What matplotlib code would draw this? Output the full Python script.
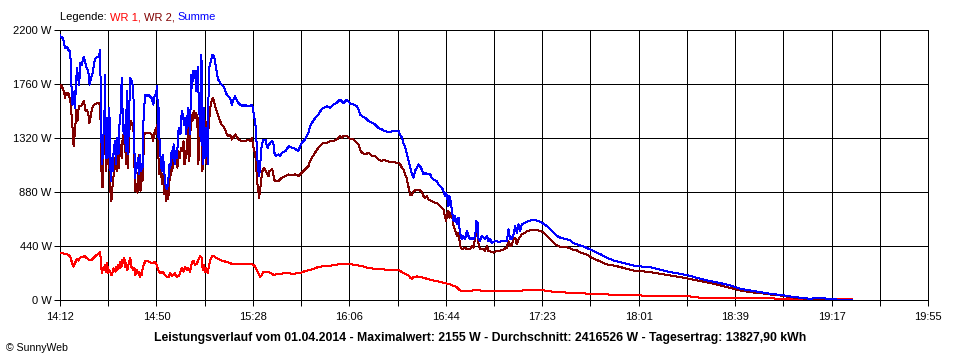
import numpy as np
import matplotlib
matplotlib.use("Agg")
import matplotlib.pyplot as plt

plt.rcParams['font.family'] = ['Liberation Sans', 'DejaVu Sans']

# minutes after 14:12, watts
span_min = 343  # 14:12 .. 19:55
tick_labels = ["14:12", "14:50", "15:28", "16:06", "16:44", "17:23", "18:01", "18:39", "19:17", "19:55"]
y_ticks = [0, 440, 880, 1320, 1760, 2200]

wr1 = [(0,379),(2.0,374),(3.3,365),(4.0,351),(4.6,310),(5.3,268),(5.9,296),(6.6,329),(7.2,318),(7.9,338),(8.6,351),(9.2,346),(9.9,357),(10.5,338),(11.9,318),(12.5,324),(13.2,338),(13.8,351),(14.5,365),(15.2,374),(15.8,385),(16.1,338),(16.5,213),(16.9,255),(17.3,241),(17.7,282),(18.1,227),(18.5,296),(18.8,268),(19.1,213),(19.5,241),(19.9,227),(20.3,199),(20.7,213),(21.1,255),(21.5,241),(21.9,227),(22.3,268),(22.7,241),(23.1,282),(23.5,255),(23.9,310),(24.3,268),(24.6,324),(25.0,296),(25.4,338),(25.8,268),(26.2,296),(26.6,241),(27.0,282),(27.4,310),(27.8,338),(28.2,268),(28.6,255),(29.0,241),(29.4,255),(29.8,199),(30.3,241),(30.7,213),(31.1,227),(31.5,185),(31.9,213),(32.3,199),(32.7,255),(33.1,282),(33.6,310),(34.3,318),(35.6,302),(36.9,296),(37.6,310),(38.0,291),(38.4,268),(38.8,241),(39.1,227),(39.5,213),(39.9,227),(40.3,213),(40.8,227),(41.5,199),(42.2,185),(42.8,180),(43.5,213),(44.2,191),(44.8,199),(45.5,213),(46.1,185),(46.8,191),(47.4,213),(48.1,255),(48.8,227),(49.4,268),(50.1,241),(50.7,255),(51.4,227),(52.1,296),(52.7,318),(53.4,282),(54.0,291),(54.7,324),(55.4,357),(56.0,338),(56.4,241),(56.8,282),(57.2,227),(57.6,255),(58.0,241),(58.4,213),(58.9,282),(59.4,324),(60.0,351),(60.6,357),(61.3,346),(62.6,329),(63.9,318),(65.2,310),(66.6,302),(67.9,291),(70.5,288),(75.8,288),(76.6,282),(77.1,268),(77.8,241),(78.4,213),(79.1,185),(79.7,199),(80.4,227),(82.4,227),(83.0,218),(84.3,202),(87.0,210),(89.6,216),(92.2,210),(94.9,216),(96.8,232),(99.5,246),(102.1,265),(104.7,273),(107.4,278),(110.0,287),(112.7,287),(114.0,289),(116.6,284),(119.2,273),(121.9,257),(124.5,251),(127.2,246),(129.8,243),(133.7,243),(135.1,224),(136.4,210),(137.7,197),(138.4,178),(139.0,169),(139.7,183),(141.0,188),(143.6,178),(146.3,161),(148.9,150),(151.5,137),(154.2,123),(156.8,101),(158.1,74),(160.8,68),(163.4,74),(164.7,79),(167.4,68),(172.6,68),(177.9,66),(183.2,74),(188.4,74),(191.1,74),(193.7,66),(199.0,58),(204.2,52),(210.8,46),(220.1,38),(229.3,33),(237.2,25),(249.1,25),(253.0,14),(263.6,11),(282.0,11),(283.0,2),(313.0,0)]

wr2 = [(0,1740),(0.3,1753),(0.7,1740),(1.3,1713),(1.7,1685),(2.0,1645),(2.4,1685),(2.9,1672),(3.3,1685),(3.7,1658),(4.1,1618),(4.5,1523),(4.9,1428),(5.1,1306),(5.4,1252),(5.7,1320),(6.1,1428),(6.5,1550),(6.9,1455),(7.2,1537),(7.6,1577),(8.2,1577),(8.8,1591),(9.4,1618),(9.8,1577),(10.1,1537),(10.7,1550),(11.2,1509),(11.6,1442),(12.0,1482),(12.5,1537),(13.0,1577),(13.6,1591),(14.1,1599),(15.4,1604),(15.7,1591),(15.9,1564),(16.2,1293),(16.5,914),(16.7,1103),(17.0,914),(17.3,1347),(17.5,1184),(17.8,1428),(18.1,1049),(18.5,1347),(18.8,1103),(19.1,1212),(19.5,1103),(19.9,887),(20.3,806),(20.7,914),(21.1,995),(21.5,1076),(21.9,1157),(22.4,1049),(22.8,1212),(23.2,1076),(23.6,1266),(24.0,1212),(24.4,1157),(24.8,1347),(25.2,1266),(25.6,1428),(26.0,1103),(26.4,1320),(26.8,1076),(27.2,1266),(27.5,1401),(28.1,1455),(28.6,1428),(29.0,1401),(29.4,1103),(29.8,887),(30.2,941),(30.6,873),(31.0,1022),(31.4,1184),(31.8,887),(32.2,1076),(32.6,968),(33.0,1184),(33.3,1347),(33.9,1361),(35.6,1361),(36.2,1347),(36.8,1293),(37.2,1347),(37.6,1388),(38.0,1347),(38.2,1428),(38.6,1374),(38.9,1157),(39.3,1022),(39.5,1130),(39.9,1049),(40.3,941),(40.8,1022),(41.2,860),(41.6,941),(42.0,806),(42.4,887),(42.8,819),(43.2,968),(43.6,995),(44.0,1103),(44.4,1049),(44.8,1212),(45.2,1157),(45.6,1103),(46.0,1157),(46.4,1076),(46.8,1212),(47.3,1157),(47.8,1239),(48.4,1212),(48.8,1293),(49.2,1103),(49.5,1212),(49.9,1157),(50.3,1293),(50.7,1401),(51.1,1130),(51.5,1347),(51.9,1509),(52.3,1455),(52.7,1523),(53.1,1537),(53.5,1482),(53.9,1523),(54.3,1428),(54.7,1103),(55.1,1482),(55.5,1537),(55.9,1347),(56.3,1049),(56.7,1509),(57.1,1212),(57.5,1455),(57.9,1103),(58.2,1266),(58.6,1374),(59.0,1482),(59.4,1564),(60.0,1631),(60.5,1645),(61.0,1604),(61.5,1564),(62.1,1523),(62.6,1496),(63.3,1455),(63.9,1428),(64.6,1415),(65.2,1388),(65.9,1347),(66.5,1334),(67.2,1347),(67.9,1306),(69.2,1347),(70.5,1306),(71.8,1293),(73.1,1293),(74.5,1306),(75.1,1293),(75.8,1320),(76.2,1279),(76.6,1225),(77.1,1198),(77.5,1089),(77.9,967),(78.3,899),(78.7,831),(79.1,899),(79.5,980),(80.0,1048),(80.5,1076),(81.7,1035),(82.4,1008),(82.7,1048),(83.7,1062),(84.1,1048),(84.6,980),(85.0,967),(86.3,967),(87.6,994),(89.0,1008),(90.3,1021),(91.6,1013),(92.9,1021),(94.2,1008),(95.5,1035),(96.9,1062),(98.2,1089),(98.8,1130),(99.5,1157),(100.8,1198),(102.1,1239),(103.4,1266),(104.1,1279),(105.4,1279),(106.7,1293),(108.1,1293),(109.4,1306),(110.7,1334),(111.3,1320),(112.0,1334),(113.3,1334),(114.6,1312),(116.0,1306),(117.3,1279),(117.9,1266),(118.6,1225),(119.3,1198),(120.6,1184),(121.9,1198),(123.2,1171),(124.5,1171),(125.8,1143),(127.2,1130),(127.8,1143),(129.1,1130),(130.5,1122),(133.8,1116),(134.4,1103),(135.1,1076),(135.7,1060),(136.4,1021),(137.0,990),(137.7,920),(138.4,850),(139.0,850),(139.7,880),(140.3,890),(141.0,897),(141.6,894),(142.3,890),(143.0,880),(143.6,845),(144.3,831),(144.9,845),(145.6,818),(146.9,804),(148.2,790),(148.9,790),(150.2,763),(150.9,750),(151.5,736),(152.2,668),(152.6,641),(153.1,709),(153.5,722),(153.9,668),(154.4,695),(154.8,709),(155.5,600),(156.1,573),(156.8,519),(157.5,546),(158.1,437),(158.8,410),(160.1,424),(160.8,410),(162.1,410),(162.7,437),(163.4,424),(164.1,505),(164.5,560),(165.0,532),(165.5,437),(166.0,410),(167.4,410),(168.0,397),(168.7,437),(169.3,397),(170.6,388),(171.3,383),(172.6,397),(173.9,397),(175.3,410),(176.6,424),(177.2,478),(177.9,437),(178.5,443),(179.2,492),(179.9,505),(180.5,451),(181.2,492),(182.5,532),(183.8,546),(184.5,560),(187.1,568),(188.4,568),(189.8,560),(191.1,546),(192.4,519),(193.7,492),(195.0,464),(196.3,443),(197.7,430),(200.3,425),(201.6,418),(202.9,405),(204.3,400),(205.6,385),(206.9,375),(208.2,365),(209.5,350),(210.8,335),(213.5,310),(216.1,286),(218.7,278),(221.4,265),(224.0,251),(226.6,237),(229.3,232),(233.2,224),(237.2,210),(241.1,196),(245.1,183),(248.4,169),(253.0,150),(257.0,134),(260.9,115),(264.9,95),(268.8,74),(272.8,60),(276.7,52),(280.7,41),(284.6,33),(288.6,19),(292.5,11),(296.5,3),(303.1,0),(313.0,0)]

summe = [(0,2155),(0.3,2146),(1.2,2132),(2.0,2051),(2.8,2065),(3.3,2038),(4.0,2024),(4.3,1916),(4.6,1699),(4.9,1591),(5.3,1618),(5.7,1699),(5.9,1564),(6.3,1753),(6.7,1889),(7.2,1807),(7.6,1753),(8.0,1929),(8.6,1916),(9.4,1983),(9.9,1943),(10.5,1889),(11.2,1862),(11.7,1753),(12.3,1807),(12.9,1848),(13.6,1943),(14.1,1970),(14.9,1983),(15.4,1983),(15.9,2038),(16.2,1428),(16.5,1212),(16.7,1103),(17.1,1320),(17.5,1428),(17.8,1834),(18.1,1157),(18.5,1482),(18.8,1157),(19.1,1374),(19.5,1564),(19.9,1076),(20.2,968),(20.4,1157),(20.8,1049),(21.2,1212),(21.7,1293),(22.1,1103),(22.7,1320),(23.1,1184),(23.5,1428),(23.9,1509),(24.3,1753),(24.5,1807),(24.8,1428),(25.2,1347),(25.6,1428),(26.0,1212),(26.4,1699),(26.9,1184),(27.3,1537),(27.8,1807),(28.2,1794),(28.6,1767),(29.0,1699),(29.3,1293),(29.7,995),(30.1,1103),(30.4,1076),(30.8,1157),(31.2,1022),(31.6,1184),(32.0,1049),(32.6,1076),(32.9,1428),(33.3,1564),(33.6,1672),(34.3,1658),(34.9,1672),(35.6,1658),(36.2,1645),(36.9,1591),(37.3,1658),(37.8,1672),(38.4,1740),(38.6,1564),(38.9,1320),(39.1,1564),(39.4,1212),(39.8,1157),(40.2,1049),(40.6,1184),(41.0,1103),(41.4,995),(41.8,914),(42.3,900),(42.8,968),(43.2,1103),(43.6,1076),(44.1,1212),(44.5,1157),(44.9,1266),(45.3,1103),(45.7,1212),(46.2,1157),(46.8,1374),(47.2,1401),(47.6,1347),(48.1,1537),(48.6,1509),(49.0,1428),(49.4,1482),(49.8,1347),(50.2,1455),(50.6,1564),(51.0,1455),(51.4,1347),(51.8,1834),(52.2,1726),(52.6,1862),(53.0,1807),(53.4,1862),(53.8,1699),(54.2,1807),(54.4,1902),(54.8,1645),(55.2,1482),(55.6,1293),(55.9,1997),(56.1,1428),(56.5,1103),(56.9,1564),(57.3,1157),(57.7,1401),(58.1,1266),(58.4,1103),(58.6,1564),(58.9,1889),(59.3,1916),(59.7,1956),(60.2,1997),(60.6,1991),(61.0,1970),(61.5,1916),(62.1,1834),(62.6,1794),(63.3,1767),(63.9,1753),(64.6,1740),(65.2,1713),(65.9,1672),(66.5,1658),(67.2,1645),(67.9,1591),(68.5,1631),(69.2,1658),(69.8,1631),(70.5,1604),(71.2,1591),(72.5,1577),(73.1,1591),(73.8,1577),(75.1,1577),(75.8,1591),(76.2,1564),(76.6,1509),(77.1,1455),(77.5,1361),(77.9,1171),(78.3,1062),(78.7,1008),(79.1,1089),(79.5,1225),(80.0,1279),(80.4,1306),(81.3,1306),(81.7,1252),(82.1,1239),(82.6,1266),(83.7,1293),(84.3,1279),(84.7,1198),(85.3,1171),(86.3,1184),(87.0,1171),(87.6,1198),(89.0,1211),(89.6,1225),(90.3,1252),(91.6,1239),(92.9,1230),(94.2,1211),(94.9,1252),(95.5,1279),(96.2,1293),(96.9,1306),(97.5,1334),(98.2,1361),(98.8,1415),(99.5,1442),(100.1,1456),(100.8,1483),(101.5,1497),(102.1,1510),(102.8,1537),(103.4,1551),(104.1,1564),(105.4,1578),(106.7,1564),(107.4,1578),(108.1,1592),(109.4,1605),(110.0,1619),(110.7,1632),(111.3,1619),(112.0,1605),(112.7,1619),(113.3,1632),(114.0,1619),(114.6,1600),(116.0,1592),(117.3,1578),(117.9,1551),(118.6,1510),(119.3,1497),(120.6,1483),(121.9,1456),(123.2,1442),(124.5,1429),(125.8,1401),(127.2,1388),(128.5,1374),(129.8,1366),(131.8,1374),(133.8,1374),(134.4,1347),(135.1,1320),(135.7,1279),(136.4,1239),(137.0,1198),(137.7,1135),(138.4,1076),(139.0,1030),(139.7,994),(140.3,1050),(141.0,1076),(141.6,1103),(142.3,1089),(143.0,1060),(143.6,1021),(144.3,1035),(144.9,1021),(146.3,1021),(146.9,994),(147.6,980),(148.9,967),(149.6,940),(150.2,926),(150.9,913),(151.5,885),(152.2,845),(152.6,872),(153.1,818),(153.5,763),(153.9,845),(154.4,804),(154.8,736),(155.5,641),(156.1,682),(156.8,614),(157.5,668),(157.9,573),(158.4,519),(158.8,492),(159.4,519),(160.1,492),(160.8,560),(161.4,519),(162.1,492),(162.7,505),(163.4,492),(164.1,519),(164.5,641),(165.0,627),(165.4,492),(166.0,478),(166.7,519),(167.4,505),(168.0,492),(168.7,519),(169.3,478),(170.0,492),(170.6,464),(172.0,478),(173.3,470),(175.3,478),(176.6,478),(177.2,573),(177.9,492),(178.5,492),(179.2,532),(179.9,600),(180.5,546),(181.2,614),(181.8,560),(182.5,614),(183.8,627),(185.1,641),(186.5,649),(187.8,649),(189.1,641),(190.4,627),(192.4,600),(193.7,573),(195.0,546),(196.3,519),(197.7,505),(199.0,497),(200.3,492),(201.6,483),(202.9,460),(205.6,440),(207.5,428),(210.2,401),(213.5,370),(216.1,341),(218.7,319),(221.4,305),(224.0,292),(226.6,278),(229.3,270),(233.2,265),(237.2,243),(241.1,224),(245.1,210),(248.4,196),(253.0,169),(257.0,150),(260.9,134),(264.9,115),(268.8,87),(272.8,74),(276.7,60),(280.7,46),(284.6,38),(288.6,25),(292.5,14),(296.5,6),(300.4,14),(303.1,6),(307.0,0),(313.0,0)]

title = ("Leistungsverlauf vom 01.04.2014 - Maximalwert: 2155 W - "
         "Durchschnitt: 2416526 W - Tagesertrag: 13827,90 kWh")

LW = 0.72  # one pixel at 100 dpi

fig = plt.figure(figsize=(9.6, 3.6), dpi=100)
ax = fig.add_axes([60 / 960, 1 - 299.5 / 360, 868 / 960, 269.5 / 360])

for series, col in ((wr1, '#ff0000'), (wr2, '#800000'), (summe, '#0000ff')):
    t, w = zip(*series)
    ax.plot(t, w, color=col, lw=LW, antialiased=False, zorder=3)

ax.set_xlim(0, span_min)
ax.set_ylim(0, 2200)

# 18 grid steps, a label on every second one
grid_x = np.linspace(0, span_min, 19)
ax.set_xticks(grid_x)
ax.set_xticklabels([tick_labels[i // 2] if i % 2 == 0 else "" for i in range(19)])
ax.set_yticks(y_ticks)
ax.set_yticklabels(["%d W" % v for v in y_ticks])
ax.tick_params(axis='both', length=4, width=LW, color='black', labelsize=8, pad=2)
ax.tick_params(axis='x', pad=5)
ax.grid(True, color='black', lw=LW, antialiased=False)
ax.set_axisbelow(True)
for s in ax.spines.values():
    s.set_color('black')
    s.set_linewidth(LW)

# coloured legend line at the top
fig.canvas.draw()
renderer = fig.canvas.get_renderer()
x = 60 / 960
for txt, col in (("Legende: ", 'black'), ("WR 1, ", '#ff0000'), ("WR 2, ", '#800000'), ("Summe", '#0000ff')):
    t = fig.text(x, 1 - 17 / 360, txt, color=col, fontsize=8, va='center', ha='left')
    bb = t.get_window_extent(renderer=renderer)
    x += bb.width / fig.bbox.width

fig.text(0.5, 1 - 338 / 360, title, fontsize=8.8, fontweight='bold', ha='center', va='center')
fig.text(6 / 960, 1 - 348 / 360, "\u00a9 SunnyWeb", fontsize=7.6, ha='left', va='center')

fig.savefig("out.png", dpi=100, facecolor='white')
